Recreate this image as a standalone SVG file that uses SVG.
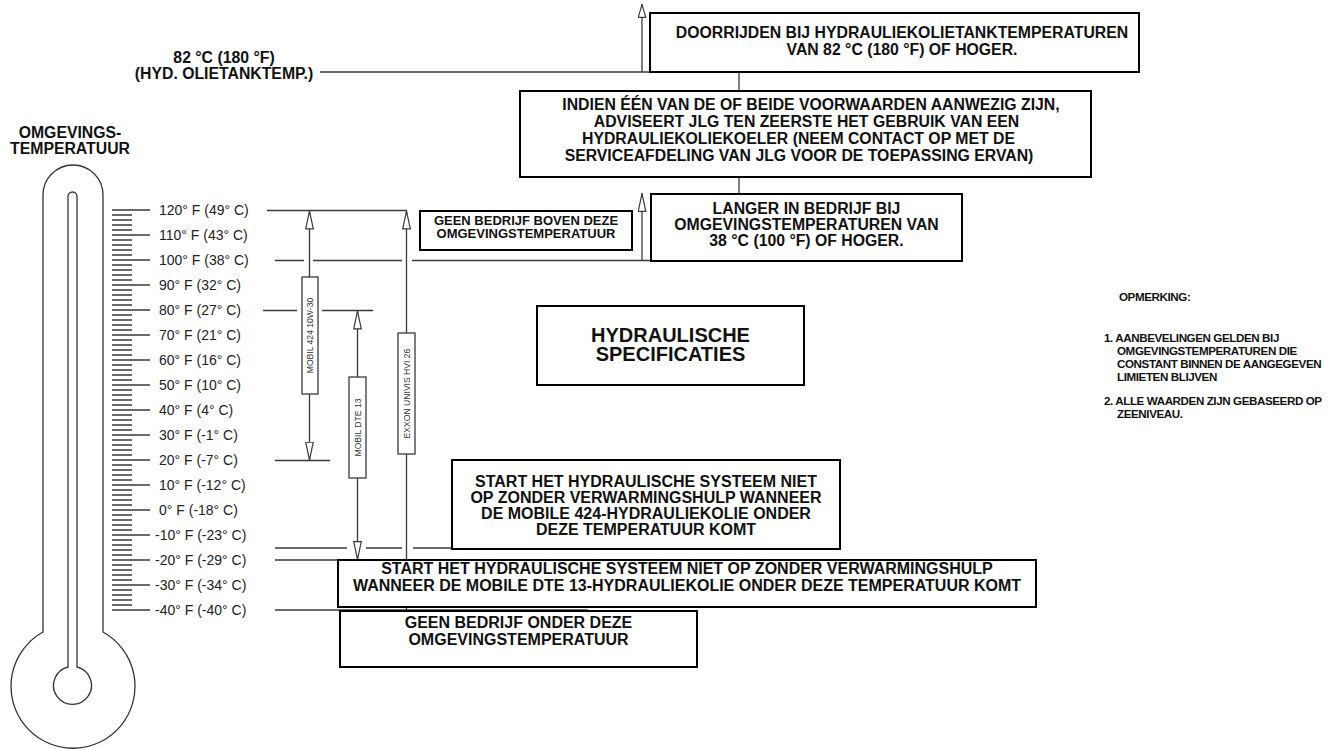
<svg xmlns="http://www.w3.org/2000/svg" width="1328" height="749" viewBox="0 0 1328 749">
<defs>
<style>
.ln{stroke:#3a3a3a;stroke-width:1.3;fill:none}
.arr{stroke:#3a3a3a;stroke-width:1.3;fill:none;marker-end:url(#ah)}
.box{fill:#fff;stroke:#000;stroke-width:2}
.bar{fill:#fff;stroke:#3a3a3a;stroke-width:1.3}
.th{fill:none;stroke:#333;stroke-width:1.3}
.b{font-family:"Liberation Sans",Arial,Helvetica,sans-serif;font-weight:bold;font-size:15.8px;fill:#111;text-anchor:middle}
.b16{font-size:16px}
.t{font-family:"Liberation Sans",Arial,Helvetica,sans-serif;font-size:14px;fill:#222}
.r{font-family:"Liberation Sans",Arial,Helvetica,sans-serif;font-size:8.6px;fill:#333;text-anchor:middle}
.n{font-family:"Liberation Sans",Arial,Helvetica,sans-serif;font-weight:bold;font-size:11.6px;letter-spacing:-0.4px;fill:#111}
</style>
<marker id="ah" viewBox="0 0 19 9" refX="19" refY="4.5" markerWidth="19" markerHeight="9" markerUnits="userSpaceOnUse" orient="auto"><path d="M0.7,0.7 L18.3,4.5 L0.7,8.3 Z" fill="#fff" stroke="#3a3a3a" stroke-width="1.2"/></marker>
<marker id="ahs" viewBox="0 0 14 9" refX="14" refY="4.5" markerWidth="14" markerHeight="9" markerUnits="userSpaceOnUse" orient="auto"><path d="M0.7,0.7 L13.3,4.5 L0.7,8.3 Z" fill="#fff" stroke="#3a3a3a" stroke-width="1.2"/></marker>
</defs>

<g id="thermometer">
<path class="th" d="M43,632 L43,195 A30,30 0 0 1 103,195 L103,632 A62,62 0 1 1 43,632 Z"/>
<path class="th" d="M68,667 L68,196.5 A4.5,4.5 0 0 1 77,196.5 L77,667 A19,19 0 1 1 68,667 Z"/>
<text class="b" x="70" y="138">OMGEVINGS-</text>
<text class="b" x="70" y="154">TEMPERATUUR</text>
</g>

<g id="scale">
<path class="ln" stroke-width="1.2" d="M112,215H132M112,220H132M112,225H132M112,230H132M112,240H132M112,245H132M112,250H132M112,255H132M112,265H132M112,270H132M112,275H132M112,280H132M112,290H132M112,295H132M112,300H132M112,305H132M112,315H132M112,320H132M112,325H132M112,330H132M112,340H132M112,345H132M112,350H132M112,355H132M112,365H132M112,370H132M112,375H132M112,380H132M112,390H132M112,395H132M112,400H132M112,405H132M112,415H132M112,420H132M112,425H132M112,430H132M112,440H132M112,445H132M112,450H132M112,455H132M112,465H132M112,470H132M112,475H132M112,480H132M112,490H132M112,495H132M112,500H132M112,505H132M112,515H132M112,520H132M112,525H132M112,530H132M112,540H132M112,545H132M112,550H132M112,555H132M112,565H132M112,570H132M112,575H132M112,580H132M112,590H132M112,595H132M112,600H132M112,605H132"/>
<path class="ln" d="M112,210H150M112,235H150M112,260H150M112,285H150M112,310H150M112,335H150M112,360H150M112,385H150M112,410H150M112,435H150M112,460H150M112,485H150M112,510H150M112,535H150M112,560H150M112,585H150M112,610H150"/>
<text class="t" x="159" y="215">120° F (49° C)</text>
<text class="t" x="159" y="240">110° F (43° C)</text>
<text class="t" x="159" y="265">100° F (38° C)</text>
<text class="t" x="159" y="290">90° F (32° C)</text>
<text class="t" x="159" y="315">80° F (27° C)</text>
<text class="t" x="159" y="340">70° F (21° C)</text>
<text class="t" x="159" y="365">60° F (16° C)</text>
<text class="t" x="159" y="390">50° F (10° C)</text>
<text class="t" x="159" y="415">40° F (4° C)</text>
<text class="t" x="159" y="440">30° F (-1° C)</text>
<text class="t" x="159" y="465">20° F (-7° C)</text>
<text class="t" x="159" y="490">10° F (-12° C)</text>
<text class="t" x="159" y="515">0° F (-18° C)</text>
<text class="t" x="155" y="540">-10° F (-23° C)</text>
<text class="t" x="155" y="565">-20° F (-29° C)</text>
<text class="t" x="155" y="590">-30° F (-34° C)</text>
<text class="t" x="155" y="615">-40° F (-40° C)</text>
</g>

<g id="label-82">
<text class="b" x="224" y="63.3">82 °C (180 °F)</text>
<text class="b" x="224" y="79.3">(HYD. OLIETANKTEMP.)</text>
</g>

<g id="connectors">
<path class="ln" d="M320,72H650"/>
<path class="ln" d="M642,72V4" marker-end="url(#ahs)"/>
<path class="ln" d="M739,72V91"/>
<path class="ln" d="M739,177V194"/>
<path class="arr" d="M642,260.5V193"/>
<path class="ln" d="M267,210.5H407"/>
<path class="ln" d="M275,260.5H304M313,260.5H402M412,260.5H651"/>
<path class="ln" d="M263,310.5H297M322,310.5H373"/>
<path class="ln" d="M275,460.5H330"/>
<path class="ln" d="M275,548H347M366,548H402M413,548H452"/>
<path class="ln" d="M275,560H338"/>
<path class="ln" d="M275,610H588"/>
<path class="arr" d="M309.5,277V210.5"/>
<path class="arr" d="M309.5,394V460.5"/>
<path class="arr" d="M357.5,377V310.5"/>
<path class="arr" d="M357.5,478V560"/>
<path class="arr" d="M406.5,333V210.5"/>
<path class="ln" d="M406.5,454V560M406.5,607V611"/>
</g>

<g id="bar-mobil424">
<rect class="bar" x="302" y="277" width="16" height="117"/>
<text class="r" transform="translate(313,335.5) rotate(-90)">MOBIL 424 10W-30</text>
</g>
<g id="bar-mobildte13">
<rect class="bar" x="349" y="377" width="17" height="101"/>
<text class="r" transform="translate(360.5,427.5) rotate(-90)">MOBIL DTE 13</text>
</g>
<g id="bar-exxon">
<rect class="bar" x="398" y="333" width="17" height="121"/>
<text class="r" transform="translate(409.5,393.5) rotate(-90)">EXXON UNIVIS HVI 26</text>
</g>

<g id="box-doorrijden">
<rect class="box" x="650" y="13" width="489" height="59"/>
<text class="b" x="902" y="37.5">DOORRIJDEN BIJ HYDRAULIEKOLIETANKTEMPERATUREN</text>
<text class="b" x="902" y="54.5">VAN 82 °C (180 °F) OF HOGER.</text>
</g>

<g id="box-advies">
<rect class="box" x="520" y="91" width="571" height="86"/>
<text class="b" x="811" y="110">INDIEN ÉÉN VAN DE OF BEIDE VOORWAARDEN AANWEZIG ZIJN,</text>
<text class="b" x="806.5" y="127">ADVISEERT JLG TEN ZEERSTE HET GEBRUIK VAN EEN</text>
<text class="b" x="798.5" y="144">HYDRAULIEKOLIEKOELER (NEEM CONTACT OP MET DE</text>
<text class="b" x="799" y="161">SERVICEAFDELING VAN JLG VOOR DE TOEPASSING ERVAN)</text>
</g>

<g id="box-langer">
<rect class="box" x="651" y="194" width="311" height="67"/>
<text class="b" x="806.5" y="213.5">LANGER IN BEDRIJF BIJ</text>
<text class="b" x="806.5" y="229.5">OMGEVINGSTEMPERATUREN VAN</text>
<text class="b" x="806.5" y="245.5">38 °C (100 °F) OF HOGER.</text>
</g>

<g id="box-boven">
<rect class="box" x="420" y="211" width="212" height="39"/>
<text class="b" style="font-size:13px" x="526" y="224.5">GEEN BEDRIJF BOVEN DEZE</text>
<text class="b" style="font-size:13px" x="526" y="238">OMGEVINGSTEMPERATUUR</text>
</g>

<g id="box-hydraulisch">
<rect class="box" x="537" y="306" width="267" height="79"/>
<text class="b" style="font-size:20px" x="670.5" y="341.5">HYDRAULISCHE</text>
<text class="b" style="font-size:20px" x="670.5" y="361">SPECIFICATIES</text>
</g>

<g id="box-mobil424">
<rect class="box" x="452" y="460" width="388" height="89"/>
<text class="b b16" x="646" y="487">START HET HYDRAULISCHE SYSTEEM NIET</text>
<text class="b b16" x="646" y="503">OP ZONDER VERWARMINGSHULP WANNEER</text>
<text class="b b16" x="646" y="519">DE MOBILE 424-HYDRAULIEKOLIE ONDER</text>
<text class="b b16" x="646" y="535">DEZE TEMPERATUUR KOMT</text>
</g>

<g id="box-dte13">
<rect class="box" x="338" y="560" width="698" height="47"/>
<text class="b b16" x="687" y="574">START HET HYDRAULISCHE SYSTEEM NIET OP ZONDER VERWARMINGSHULP</text>
<text class="b b16" x="687" y="590.5">WANNEER DE MOBILE DTE 13-HYDRAULIEKOLIE ONDER DEZE TEMPERATUUR KOMT</text>
</g>

<g id="box-onder">
<rect class="box" x="340" y="611" width="357" height="56"/>
<text class="b b16" x="518.5" y="628">GEEN BEDRIJF ONDER DEZE</text>
<text class="b b16" x="518.5" y="645">OMGEVINGSTEMPERATUUR</text>
</g>

<g id="notes">
<text class="n" x="1119" y="301">OPMERKING:</text>
<text class="n" x="1104" y="342">1. AANBEVELINGEN GELDEN BIJ</text>
<text class="n" x="1117" y="355">OMGEVINGSTEMPERATUREN DIE</text>
<text class="n" x="1117" y="368">CONSTANT BINNEN DE AANGEGEVEN</text>
<text class="n" x="1117" y="381">LIMIETEN BLIJVEN</text>
<text class="n" x="1104" y="405">2. ALLE WAARDEN ZIJN GEBASEERD OP</text>
<text class="n" x="1117" y="418">ZEENIVEAU.</text>
</g>
</svg>
